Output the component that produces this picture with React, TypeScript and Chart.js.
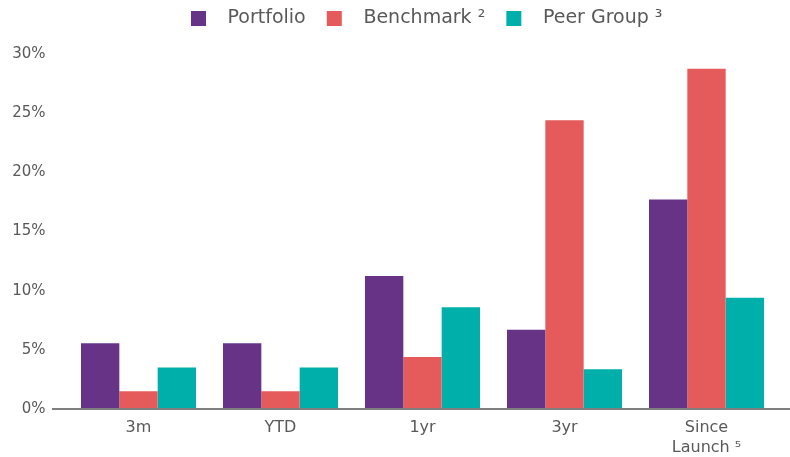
import React, { useEffect, useRef } from "react";
import { Chart, registerables } from "chart.js";

Chart.register(...registerables);

const categories: (string | string[])[] = ["3m", "YTD", "1yr", "3yr", ["Since", "Launch \u2075"]];
const portfolio = [5.55, 5.55, 11.25, 6.7, 17.7];
const benchmark = [1.5, 1.5, 4.4, 24.4, 28.75];
const peerGroup = [3.5, 3.5, 8.6, 3.35, 9.4];
const seriesLabels = ["Portfolio", "Benchmark \u00B2", "Peer Group \u00B3"];
const yTicks = [0, 5, 10, 15, 20, 25, 30];

const COLORS = ["#663387", "#E55A5A", "#00AFAA"];
const TEXT = "#595959";
const FONT = "'DejaVu Sans', sans-serif";
const LEGEND_SHIFT = 44;
const LEGEND_EXTRA = 16;

const axisLinePlugin = {
  id: "axisLine",
  afterDatasetsDraw(chart: any) {
    const { ctx, chartArea, scales } = chart;
    const y = scales.y.getPixelForValue(0);
    ctx.save();
    ctx.strokeStyle = "#7F7F7F";
    ctx.lineWidth = 2;
    ctx.beginPath();
    ctx.moveTo(chartArea.left - 15.5, y);
    ctx.lineTo(chart.width, y);
    ctx.stroke();
    ctx.restore();
  },
};

const legendTweak = {
  id: "legendTweak",
  beforeLayout(chart: any) {
    const lg = chart.legend;
    if (lg && !lg._tweaked) {
      const orig = lg.fit;
      lg.fit = function () {
        orig.call(this);
        this.height += LEGEND_EXTRA;
      };
      lg._tweaked = true;
    }
  },
  afterLayout(chart: any) {
    const lg = chart.legend;
    if (lg) {
      lg.left += LEGEND_SHIFT;
      lg.right += LEGEND_SHIFT;
    }
  },
};

export default function App() {
  const ref = useRef<HTMLCanvasElement>(null);
  useEffect(() => {
    document.body.style.margin = "0";
    const chart = new Chart(ref.current!, {
      type: "bar",
      data: {
        labels: categories,
        datasets: [portfolio, benchmark, peerGroup].map((d, i) => ({
          label: seriesLabels[i],
          data: d,
          backgroundColor: COLORS[i],
          borderWidth: 0,
          categoryPercentage: 0.81,
          barPercentage: 1,
        })),
      },
      options: {
        animation: false,
        responsive: false,
        layout: { padding: { top: 0, right: 12.5, bottom: 0, left: 0 } },
        plugins: {
          tooltip: { enabled: false },
          legend: {
            position: "top",
            labels: {
              boxWidth: 15,
              boxHeight: 15,
              padding: 9,
              color: TEXT,
              font: { family: FONT, size: 19 },
              generateLabels(chart: any) {
                const items = Chart.defaults.plugins.legend.labels.generateLabels(chart);
                return items.map((it: any) => ({ ...it, text: "  " + it.text + "  " }));
              },
            },
          },
        },
        scales: {
          x: {
            grid: { display: false, drawTicks: false },
            border: { display: false },
            ticks: { color: TEXT, font: { family: FONT, size: 16, lineHeight: 1.3 }, padding: 8, maxRotation: 0 },
            afterFit(scale: any) {
              scale.height = 48;
            },
          },
          y: {
            min: 0,
            max: 30,
            grid: { display: false, drawTicks: false },
            border: { display: false },
            afterBuildTicks(scale: any) {
              scale.ticks = yTicks.map((v) => ({ value: v }));
            },
            ticks: {
              color: TEXT,
              font: { family: FONT, size: 15 },
              padding: 22,
              callback: (v: any) => v + "%",
            },
            afterFit(scale: any) {
              scale.width = 67.5;
            },
          },
        },
      },
      plugins: [axisLinePlugin, legendTweak],
    });
    return () => chart.destroy();
  }, []);
  return (
    <div style={{ width: 790, height: 457 }}>
      <canvas ref={ref} width={790} height={457} />
    </div>
  );
}
